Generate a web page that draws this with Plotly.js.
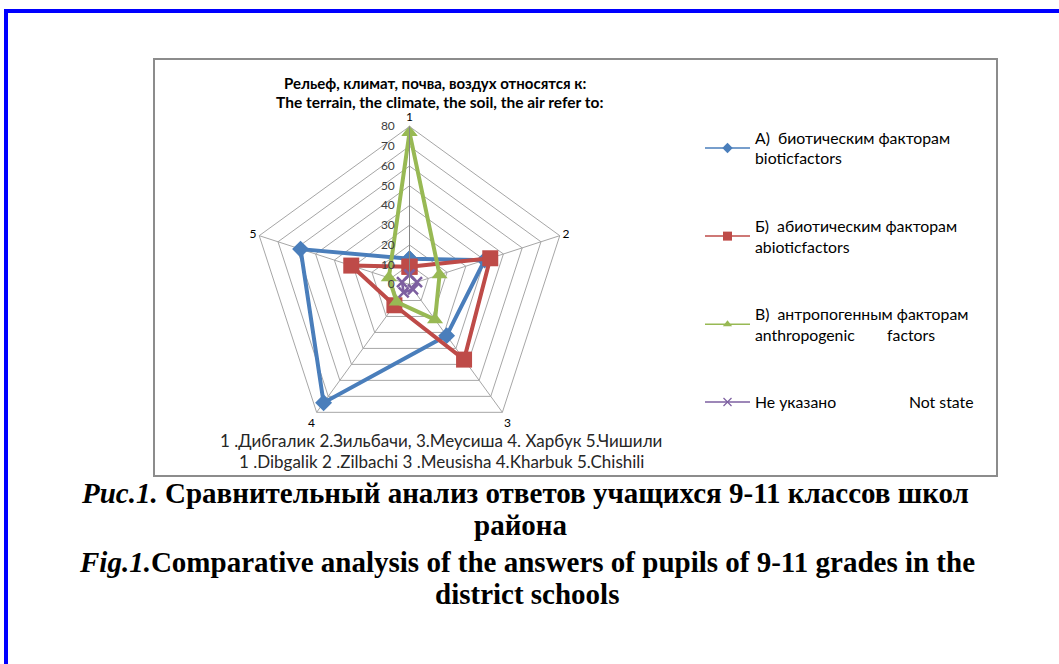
<!DOCTYPE html>
<html><head><meta charset="utf-8">
<script src="https://cdn.plot.ly/plotly-3.0.1.min.js"></script>
<style>html,body{margin:0;padding:0;background:#fff;}#chart{width:1059px;height:664px;}</style>
</head><body><div id="chart"></div>
<script>
var categories = ['1','2','3','4','5'];
var biotic = [13, 40, 32, 74, 58];
var abiotic = [9, 43, 47, 13, 31];
var anthropogenic = [77, 16, 22, 11, 11];
var notStated = [5, 4, 3, 5, 4];
var seriesNames = [
  'А)  биотическим факторам<br>bioticfactors',
  'Б)  абиотическим факторам<br>abioticfactors',
  'В)  антропогенным факторам<br>anthropogenic\u00a0\u00a0\u00a0\u00a0\u00a0\u00a0\u00a0\u00a0factors',
  'Не указано\u00a0\u00a0\u00a0\u00a0\u00a0\u00a0\u00a0\u00a0\u00a0\u00a0\u00a0\u00a0\u00a0\u00a0\u00a0\u00a0\u00a0\u00a0Not state'
];
var colors = ['#4A7EBB', '#BE4B48', '#98B954', '#7D5FA0'];
var symbols = ['diamond', 'square', 'triangle-up', 'x-thin-open'];
var sizes = [13, 16, 14, 10];
var values = [biotic, abiotic, anthropogenic, notStated];

var W = 1059, H = 664;
function px(x){return x/W;}
function py(y){return 1 - y/H;}

var traces = [];
values.forEach(function(v, i){
  traces.push({
    type:'scatterpolar', r: v.concat([v[0]]), theta: categories.concat([categories[0]]),
    mode:'lines+markers', showlegend:false,
    line:{color:colors[i], width: i===3 ? 2.5 : 4},
    marker:{symbol:symbols[i], size:sizes[i], color:colors[i], line:{color:colors[i], width: i===3?2.5:0}},
    hoverinfo:'skip'
  });
});
// legend entries (no visible marks)
values.forEach(function(v, i){
  traces.push({
    type:'scatterpolar', r:[null], theta:[categories[0]], mode:'lines+markers', name: seriesNames[i],
    legendgroup:'g'+i, showlegend:true,
    line:{color:colors[i], width:1.5},
    marker:{symbol:symbols[i], size: i===1?9:8, color:colors[i], line:{color:colors[i], width: i===3?1.2:0}}
  });
});

var R = 158, cx = 409.5, cy = 284.5;
var F = 'Lato, Open Sans, sans-serif';
var SERIF = 'Liberation Serif, Times New Roman, serif';
function ann(x, y, text, font, anchor){
  return {xref:'paper', yref:'paper', x:px(x), y:py(y), xanchor:anchor||'center', yanchor:'middle', showarrow:false, text:text, font:font};
}
var layout = {
  width:W, height:H, margin:{l:0,r:0,t:0,b:0},
  paper_bgcolor:'#fff', plot_bgcolor:'#fff',
  showlegend:true,
  font:{family:F, color:'#000'},
  polar:{
    domain:{x:[px(cx-R), px(cx+R)], y:[py(cy+R), py(cy-R)]},
    gridshape:'linear', bgcolor:'rgba(0,0,0,0)',
    radialaxis:{range:[0,80], dtick:10, angle:90, tickangle:90, side:'counterclockwise', showline:true,
      linecolor:'#868686', linewidth:1, gridcolor:'#A6A6A6', gridwidth:1,
      ticks:'outside', ticklen:10, tickcolor:'rgba(0,0,0,0)',
      tickfont:{size:12, color:'#404040', family:F}},
    angularaxis:{type:'category', categoryarray:categories, direction:'clockwise', rotation:90,
      linecolor:'#A6A6A6', gridcolor:'#A6A6A6', showline:true, ticks:'',
      tickfont:{size:12, color:'#000', family:F}}
  },
  legend:{x:px(700), y:py(121), xanchor:'left', yanchor:'top', traceorder:'grouped', tracegroupgap:44,
    font:{size:15.8, family:F, color:'#000'}, itemwidth:45, bgcolor:'rgba(0,0,0,0)'},
  shapes:[
    {type:'line', xref:'paper', yref:'paper', x0:px(4), x1:px(1059), y0:py(11), y1:py(11), line:{color:'#0000FF', width:4}},
    {type:'line', xref:'paper', yref:'paper', x0:px(6), x1:px(6), y0:py(9), y1:py(664), line:{color:'#0000FF', width:4}},
    {type:'rect', xref:'paper', yref:'paper', x0:px(154), x1:px(997), y0:py(59), y1:py(476), line:{color:'#8C8C8C', width:2}, layer:'below'}
  ],
  annotations:[
    ann(435, 83, '<b>Рельеф, климат, почва, воздух относятся к:</b>', {size:15, family:F, color:'#000'}),
    ann(439, 102, '<b>The terrain, the climate, the soil, the air refer to:</b>', {size:15.5, family:F, color:'#000'}),
    ann(441, 440, '1 .Дибгалик 2.Зильбачи, 3.Меусиша 4. Харбук 5.Чишили', {size:17, family:F, color:'#262626'}),
    ann(441, 461, '1 .Dibgalik 2 .Zilbachi 3 .Meusisha 4.Kharbuk 5.Chishili', {size:17, family:F, color:'#262626'}),
    ann(525, 493, '<i>Рис.1.</i> Сравнительный анализ ответов учащихся 9-11 классов школ', {size:29, family:SERIF, color:'#000', weight:'bold'}),
    ann(521, 525, 'района', {size:29, family:SERIF, color:'#000', weight:'bold'}),
    ann(527, 562, '<i>Fig.1.</i>Comparative analysis of the answers of pupils of 9-11 grades in the', {size:29, family:SERIF, color:'#000', weight:'bold'}),
    ann(527, 594, 'district schools', {size:29, family:SERIF, color:'#000', weight:'bold'})
  ]
};
Plotly.newPlot('chart', traces, layout, {displayModeBar:false, staticPlot:true});
</script></body></html>
